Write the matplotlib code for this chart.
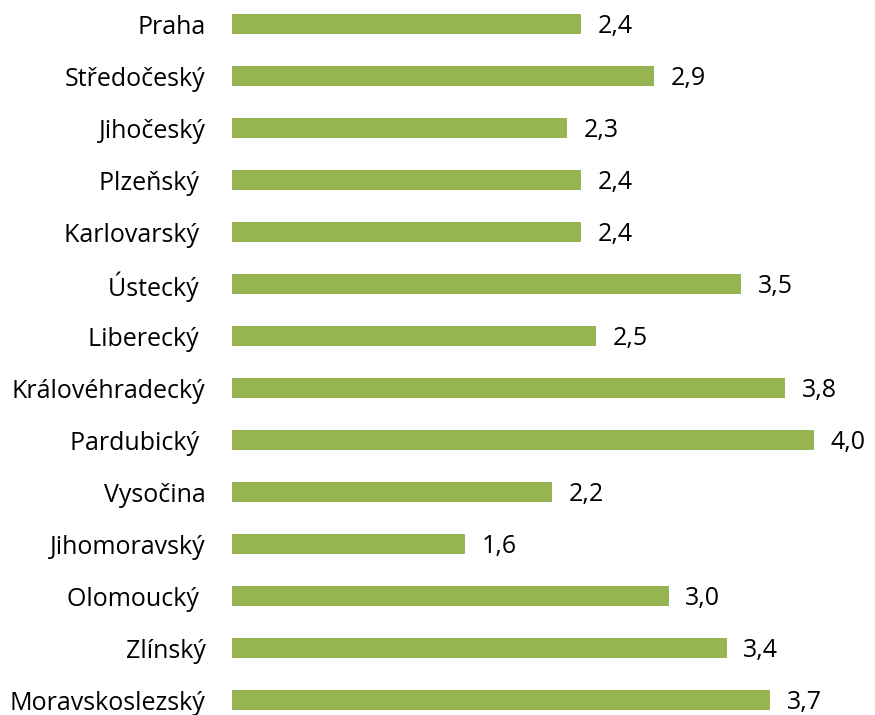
import matplotlib.pyplot as plt

regions = ['Praha', 'Středočeský', 'Jihočeský', 'Plzeňský ', 'Karlovarský ', 'Ústecký ',
           'Liberecký ', 'Královéhradecký', 'Pardubický ', 'Vysočina', 'Jihomoravský',
           'Olomoucký ', 'Zlínský', 'Moravskoslezský']
values = [2.4, 2.9, 2.3, 2.4, 2.4, 3.5, 2.5, 3.8, 4.0, 2.2, 1.6, 3.0, 3.4, 3.7]

plt.rcParams['font.family'] = ['Open Sans', 'DejaVu Sans']

fig = plt.figure(figsize=(8.75, 7.15), dpi=100)
ax = fig.add_axes([232 / 875, 0, 1 - 232 / 875, 1])

pos = list(range(len(regions)))
ax.barh(pos, values, height=0.385, color='#96B450')

for y, v in zip(pos, values):
    ax.annotate(f'{v:.1f}'.replace('.', ','), (v, y), xytext=(12, -2),
                textcoords='offset points', va='center', ha='left', fontsize=18)

ax.set_yticks(pos)
ax.set_yticklabels(regions, fontsize=18)
ax.tick_params(axis='y', length=0, pad=19)
ax.set_xticks([])
ax.set_xlim(0, 643 / 145.5)
ax.set_ylim(691 / 52, -24 / 52)
for s in ax.spines.values():
    s.set_visible(False)

fig.savefig('out.png', dpi=100)
